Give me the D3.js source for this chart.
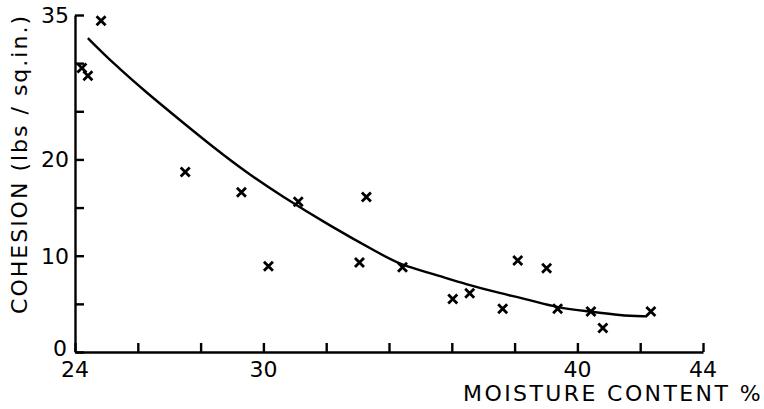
<!DOCTYPE html>
<html>
<head>
<meta charset="utf-8">
<script src="https://cdn.jsdelivr.net/npm/d3@7"></script>
<style>
  body { margin: 0; background: #fff; }
  text { font-family: "DejaVu Sans", sans-serif; fill: #000; }
</style>
</head>
<body>
<div id="chart"></div>
<script>
// measured points (moisture %, cohesion lbs/sq.in.)
const moisture = [24.83, 24.22, 24.41, 27.51, 29.30, 30.16, 31.11, 33.28, 33.06, 34.43,
                  36.03, 36.57, 37.62, 38.10, 39.02, 39.37, 40.43, 40.81, 42.34];
const cohesion = [34.4, 29.5, 28.7, 18.7, 16.6, 8.9, 15.6, 16.1, 9.3, 8.8,
                  5.5, 6.1, 4.5, 9.5, 8.7, 4.5, 4.2, 2.5, 4.2];

// fitted curve
const curveX = [24.41, 25.21, 26.29, 27.34, 28.39, 29.48, 30.53, 32.12, 33.71, 34.41,
                35.31, 36.48, 37.54, 38.49, 39.35, 40.40, 41.36, 42.22];
const curveY = [32.6, 30.0, 26.9, 24.1, 21.3, 18.6, 16.3, 13.1, 10.2, 9.0,
                8.2, 7.0, 6.1, 5.4, 4.6, 4.2, 3.8, 3.7];

const xTicks = [24, 26, 28, 30, 32, 34, 36, 38, 40, 42, 44];
const xLabels = [24, 30, 40, 44];
const yTicks = [0, 5, 10, 15, 20, 25, 30, 35];
const yLabels = [0, 10, 20, 35];

const width = 764, height = 409;
const svg = d3.select("#chart").append("svg")
    .attr("width", width)
    .attr("height", height);

const x = d3.scaleLinear().domain([24, 44]).range([75, 703]);
const y = d3.scaleLinear().domain([0, 35]).range([352, 15]);

// axes with inward ticks
svg.append("g")
    .attr("transform", `translate(0, ${y(0)})`)
    .call(d3.axisTop(x).tickValues(xTicks).tickSize(9).tickSizeOuter(0).tickFormat(""));
svg.append("g")
    .attr("transform", `translate(${x(24)}, 0)`)
    .call(d3.axisRight(y).tickValues(yTicks).tickSize(9).tickSizeOuter(0).tickFormat(""));

svg.selectAll(".domain").attr("stroke", "#000").attr("stroke-width", 2.4);
svg.selectAll(".tick line").attr("stroke", "#000").attr("stroke-width", 2.4);

svg.selectAll(".xlab")
    .data(xLabels)
    .enter()
    .append("text")
    .attr("class", "xlab")
    .attr("x", d => x(d))
    .attr("y", y(0) + 25)
    .attr("text-anchor", "middle")
    .attr("font-size", 22)
    .text(d => d);

// the 0 label sits a little higher than its tick, clear of "24"
svg.selectAll(".ylab")
    .data(yLabels)
    .enter()
    .append("text")
    .attr("class", "ylab")
    .attr("x", d => d === 0 ? x(24) - 8 : x(24) - 6)
    .attr("y", d => d === 0 ? y(d) - 4 : y(d))
    .attr("dy", "0.36em")
    .attr("text-anchor", "end")
    .attr("font-size", 22)
    .text(d => d);

svg.append("text")
    .attr("x", 763)
    .attr("y", 401)
    .attr("text-anchor", "end")
    .attr("font-size", 22)
    .attr("letter-spacing", 2.4)
    .text("MOISTURE CONTENT %");

svg.append("text")
    .attr("transform", "translate(27, 164) rotate(-90)")
    .attr("text-anchor", "middle")
    .attr("font-size", 22)
    .attr("letter-spacing", 2)
    .text("COHESION (lbs / sq.in.)");

// fitted curve
const line = d3.line()
    .x(d => x(d[0]))
    .y(d => y(d[1]))
    .curve(d3.curveBasis);

svg.append("path")
    .datum(curveX.map((v, i) => [v, curveY[i]]))
    .attr("d", line)
    .attr("fill", "none")
    .attr("stroke", "#000")
    .attr("stroke-width", 2.4);

// cross markers
const points = moisture.map((v, i) => [v, cohesion[i]]);
svg.selectAll(".pt")
    .data(points)
    .enter()
    .append("path")
    .attr("class", "pt")
    .attr("transform", d => `translate(${x(d[0])}, ${y(d[1])})`)
    .attr("d", "M-4.5,-4.5L4.5,4.5M-4.5,4.5L4.5,-4.5")
    .attr("stroke", "#000")
    .attr("stroke-width", 2.8)
    .attr("fill", "none");
</script>
</body>
</html>
